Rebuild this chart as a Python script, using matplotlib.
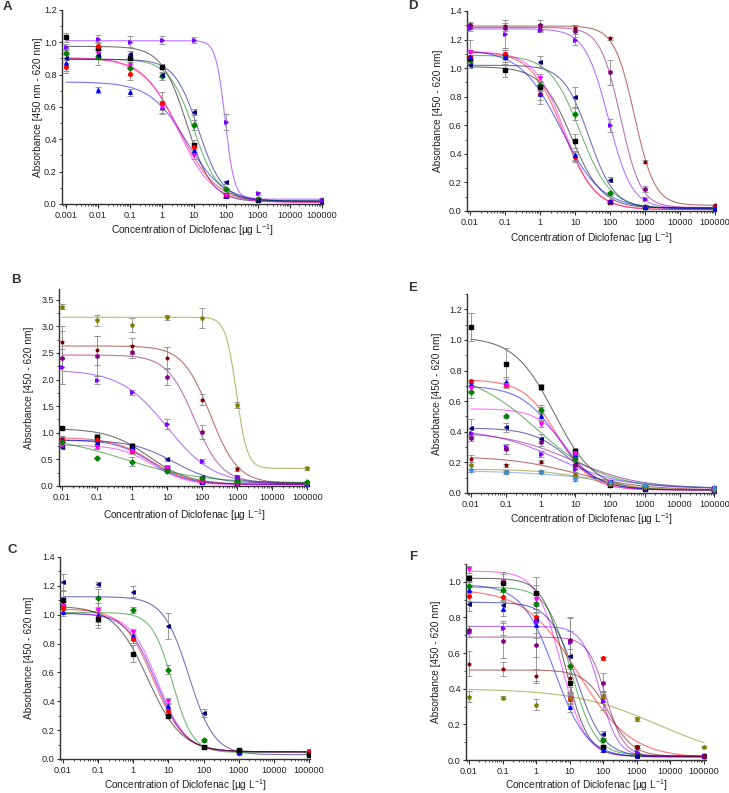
import numpy as np
import matplotlib.pyplot as plt
from matplotlib.ticker import FixedLocator, LogLocator, FuncFormatter, MultipleLocator, AutoMinorLocator, NullFormatter

plt.rcParams['font.family'] = ['Liberation Sans', 'DejaVu Sans']
plt.rcParams['mathtext.default'] = 'regular'

# Origin-like palette
COLORS = {'black': '#000000', 'red': '#FF0000', 'blue': '#0000FF', 'magenta': '#FF00FF',
          'green': '#008000', 'navy': '#000080', 'violet': '#8000FF', 'purple': '#800080',
          'wine': '#800000', 'olive': '#808000', 'lightblue': '#3C8DDC'}
MARKERS = {'black': 's', 'red': 'o', 'blue': '^', 'magenta': 'v', 'green': 'D', 'navy': '<',
           'violet': '>', 'purple': 'h', 'wine': '*', 'olive': 'p', 'lightblue': 'd'}

# ---------------- panel A ----------------
A_conc = [0.001, 0.01, 0.1, 1, 10, 100, 1000, 100000]
A_names = ['black', 'red', 'blue', 'magenta', 'green', 'navy', 'violet']
A_y = [[1.03, 0.965, 0.90, 0.85, 0.365, 0.055, 0.025, 0.02],
       [0.85, 0.98, 0.805, 0.625, 0.35, 0.05, 0.03, 0.025],
       [0.87, 0.705, 0.69, 0.60, 0.33, 0.05, 0.03, 0.025],
       [0.93, 0.935, 0.86, 0.60, 0.30, 0.055, 0.03, 0.025],
       [0.935, 0.91, 0.84, 0.79, 0.49, 0.09, 0.03, 0.025],
       [0.90, 0.92, 0.925, 0.80, 0.57, 0.135, 0.025, 0.02],
       [0.97, 1.02, 1.005, 1.015, 1.015, 0.505, 0.065, 0.025]]
A_err = [[0.025, 0.015, 0.02, 0.015, 0.03, 0.01, 0.005, 0.005],
         [0.04, 0.02, 0.04, 0.07, 0.03, 0.01, 0.005, 0.005],
         [0.05, 0.02, 0.02, 0.02, 0.02, 0.01, 0.005, 0.005],
         [0.03, 0.02, 0.02, 0.04, 0.02, 0.01, 0.005, 0.005],
         [0.03, 0.05, 0.04, 0.02, 0.03, 0.01, 0.005, 0.005],
         [0.03, 0.02, 0.02, 0.015, 0.02, 0.01, 0.005, 0.005],
         [0.02, 0.025, 0.035, 0.025, 0.02, 0.05, 0.01, 0.005]]
# 4PL fit: (top, bottom, IC50, slope)
A_fit = [(0.975, 0.015, 6.0, 1.1), (0.905, 0.01, 3.5, 0.75), (0.755, 0.015, 6.0, 0.75),
         (0.905, 0.01, 3.2, 0.8), (0.895, 0.02, 10.0, 1.1), (0.895, 0.02, 14.0, 1.15),
         (1.01, 0.03, 95.0, 3.0)]

# ---------------- panel B ----------------
B_conc = [0.01, 0.1, 1, 10, 100, 1000, 100000]
B_names = ['olive', 'wine', 'purple', 'violet', 'black', 'navy', 'red', 'blue', 'magenta', 'green']
B_y = [[3.37, 3.11, 3.02, 3.17, 3.15, 1.52, 0.33],
       [2.71, 2.55, 2.63, 2.41, 1.62, 0.32, 0.07],
       [2.41, 2.44, 2.52, 2.05, 1.02, 0.17, 0.07],
       [2.24, 1.99, 1.76, 1.16, 0.47, 0.16, 0.05],
       [1.08, 0.92, 0.75, 0.34, 0.08, 0.05, 0.03],
       [0.73, 0.82, 0.70, 0.50, 0.16, 0.09, 0.06],
       [0.89, 0.87, 0.66, 0.34, 0.10, 0.06, 0.03],
       [0.87, 0.81, 0.71, 0.32, 0.08, 0.05, 0.03],
       [0.77, 0.74, 0.65, 0.33, 0.07, 0.04, 0.03],
       [0.82, 0.52, 0.46, 0.29, 0.15, 0.10, 0.08]]
B_err = [[0.05, 0.1, 0.13, 0.05, 0.19, 0.06, 0.03],
         [0.3, 0.27, 0.15, 0.2, 0.1, 0.03, 0.02],
         [0.5, 0.38, 0.12, 0.15, 0.13, 0.03, 0.02],
         [0.33, 0.07, 0.05, 0.09, 0.03, 0.02, 0.02],
         [0.03, 0.05, 0.05, 0.05, 0.03, 0.02, 0.02],
         [0.03, 0.1, 0.04, 0.03, 0.02, 0.02, 0.02],
         [0.05, 0.05, 0.04, 0.04, 0.02, 0.02, 0.02],
         [0.05, 0.05, 0.04, 0.04, 0.02, 0.02, 0.02],
         [0.05, 0.05, 0.05, 0.04, 0.02, 0.02, 0.02],
         [0.05, 0.02, 0.08, 0.04, 0.03, 0.02, 0.02]]
B_fit = [(3.17, 0.33, 950.0, 2.8), (2.63, 0.05, 170.0, 1.1), (2.46, 0.06, 60.0, 1.1),
         (2.18, 0.03, 10.0, 0.65), (1.08, 0.03, 3.0, 0.75), (0.86, 0.05, 15.0, 0.75),
         (0.91, 0.03, 3.5, 0.8), (0.87, 0.03, 3.5, 0.85), (0.77, 0.02, 4.0, 0.9),
         (0.95, 0.06, 0.6, 0.4)]

# ---------------- panel C ----------------
C_conc = [0.01, 0.1, 1, 10, 100, 1000, 100000]
C_names = ['navy', 'green', 'magenta', 'blue', 'red', 'black']
C_y = [[1.225, 1.21, 1.16, 0.925, 0.32, 0.05, 0.035],
       [1.07, 1.115, 1.035, 0.62, 0.13, 0.04, 0.05],
       [1.06, 1.03, 0.88, 0.40, 0.085, 0.06, 0.055],
       [1.02, 1.00, 0.855, 0.365, 0.08, 0.05, 0.05],
       [1.045, 0.98, 0.835, 0.33, 0.08, 0.055, 0.05],
       [1.10, 0.97, 0.73, 0.295, 0.085, 0.06, 0.03]]
C_err = [[0.06, 0.02, 0.04, 0.09, 0.03, 0.01, 0.005],
         [0.05, 0.06, 0.02, 0.03, 0.01, 0.01, 0.005],
         [0.03, 0.05, 0.02, 0.02, 0.01, 0.01, 0.005],
         [0.03, 0.05, 0.03, 0.02, 0.01, 0.01, 0.005],
         [0.04, 0.05, 0.03, 0.02, 0.01, 0.01, 0.005],
         [0.07, 0.06, 0.06, 0.01, 0.01, 0.01, 0.005]]
C_fit = [(1.125, 0.03, 38.0, 1.2), (1.015, 0.045, 13.0, 1.5), (1.01, 0.05, 5.0, 1.1),
         (1.01, 0.05, 4.5, 1.05), (1.04, 0.05, 3.8, 1.0), (1.06, 0.05, 2.6, 0.9)]

# ---------------- panel D ----------------
D_conc = [0.01, 0.1, 1, 10, 100, 1000, 100000]
D_names = ['wine', 'purple', 'violet', 'navy', 'green', 'black', 'magenta', 'red', 'blue']
D_y = [[1.295, 1.295, 1.29, 1.28, 1.21, 0.345, 0.04],
       [1.30, 1.28, 1.30, 1.26, 0.97, 0.155, 0.03],
       [1.28, 1.24, 1.27, 1.20, 0.60, 0.085, 0.02],
       [1.02, 1.08, 1.045, 0.795, 0.22, 0.03, 0.02],
       [1.06, 1.09, 0.88, 0.68, 0.125, 0.03, 0.02],
       [1.07, 0.99, 0.87, 0.49, 0.065, 0.03, 0.02],
       [1.115, 1.10, 0.93, 0.37, 0.065, 0.03, 0.02],
       [1.075, 1.10, 0.82, 0.38, 0.065, 0.03, 0.02],
       [1.08, 1.075, 0.82, 0.39, 0.07, 0.03, 0.02]]
D_err = [[0.02, 0.02, 0.02, 0.02, 0.01, 0.01, 0.005],
         [0.02, 0.02, 0.04, 0.04, 0.09, 0.02, 0.005],
         [0.02, 0.1, 0.02, 0.04, 0.045, 0.01, 0.005],
         [0.02, 0.05, 0.04, 0.07, 0.02, 0.01, 0.005],
         [0.03, 0.05, 0.03, 0.04, 0.01, 0.01, 0.005],
         [0.05, 0.05, 0.03, 0.05, 0.01, 0.01, 0.005],
         [0.08, 0.03, 0.03, 0.03, 0.01, 0.01, 0.005],
         [0.03, 0.03, 0.07, 0.03, 0.01, 0.01, 0.005],
         [0.05, 0.02, 0.04, 0.03, 0.01, 0.01, 0.005]]
D_fit = [(1.295, 0.04, 500.0, 1.5), (1.285, 0.025, 200.0, 1.5), (1.275, 0.02, 90.0, 1.3),
         (1.02, 0.02, 25.0, 1.2), (1.09, 0.02, 14.0, 1.0), (1.01, 0.02, 8.0, 1.0),
         (1.115, 0.01, 5.0, 1.0), (1.115, 0.01, 4.5, 0.95), (1.13, 0.015, 4.0, 0.75)]

# ---------------- panel E ----------------
E_conc = [0.01, 0.1, 1, 10, 100, 1000, 100000]
E_names = ['black', 'red', 'blue', 'green', 'magenta', 'navy', 'violet', 'purple', 'wine', 'olive', 'lightblue']
E_y = [[1.085, 0.845, 0.69, 0.275, 0.05, 0.025, 0.02],
       [0.73, 0.705, 0.54, 0.255, 0.06, 0.03, 0.02],
       [0.71, 0.725, 0.505, 0.25, 0.07, 0.03, 0.02],
       [0.66, 0.50, 0.545, 0.22, 0.065, 0.045, 0.03],
       [0.685, 0.705, 0.45, 0.26, 0.07, 0.035, 0.02],
       [0.425, 0.43, 0.355, 0.19, 0.07, 0.04, 0.03],
       [0.395, 0.30, 0.255, 0.155, 0.065, 0.04, 0.03],
       [0.36, 0.285, 0.335, 0.18, 0.075, 0.04, 0.03],
       [0.225, 0.18, 0.205, 0.12, 0.06, 0.035, 0.03],
       [0.18, 0.14, 0.14, 0.11, 0.06, 0.04, 0.02],
       [0.15, 0.135, 0.14, 0.09, 0.07, 0.055, 0.03]]
E_err = [[0.09, 0.1, 0.02, 0.02, 0.01, 0.005, 0.005],
         [0.01, 0.01, 0.02, 0.02, 0.01, 0.005, 0.005],
         [0.02, 0.03, 0.03, 0.02, 0.01, 0.005, 0.005],
         [0.04, 0.01, 0.03, 0.02, 0.01, 0.01, 0.005],
         [0.02, 0.02, 0.02, 0.02, 0.01, 0.005, 0.005],
         [0.06, 0.03, 0.03, 0.02, 0.01, 0.005, 0.005],
         [0.02, 0.02, 0.02, 0.02, 0.01, 0.005, 0.005],
         [0.02, 0.03, 0.03, 0.02, 0.01, 0.005, 0.005],
         [0.02, 0.01, 0.01, 0.01, 0.01, 0.005, 0.005],
         [0.02, 0.01, 0.01, 0.01, 0.01, 0.005, 0.005],
         [0.01, 0.01, 0.01, 0.01, 0.01, 0.005, 0.005]]
E_fit = [(1.02, 0.02, 2.5, 0.75), (0.74, 0.02, 3.0, 0.9), (0.70, 0.02, 3.2, 0.8),
         (0.80, 0.03, 0.8, 0.45), (0.55, 0.02, 6.0, 1.0), (0.425, 0.02, 7.0, 0.8),
         (0.42, 0.03, 3.0, 0.45), (0.40, 0.03, 8.0, 0.45), (0.24, 0.02, 10.0, 0.45),
         (0.155, 0.02, 30.0, 0.6), (0.15, 0.02, 100.0, 0.3)]

# ---------------- panel F ----------------
F_conc = [0.01, 0.1, 1, 10, 100, 1000, 100000]
F_names = ['magenta', 'black', 'green', 'blue', 'red', 'navy', 'violet', 'purple', 'wine', 'olive']
F_y = [[1.07, 1.005, 0.905, 0.35, 0.07, 0.03, 0.02],
       [1.02, 0.995, 0.935, 0.43, 0.075, 0.03, 0.02],
       [0.975, 0.955, 0.875, 0.53, 0.115, 0.035, 0.02],
       [0.955, 0.85, 0.76, 0.30, 0.055, 0.025, 0.02],
       [0.92, 0.915, 0.80, 0.345, 0.57, 0.075, 0.02],
       [0.875, 0.87, 0.785, 0.585, 0.145, 0.025, 0.02],
       [0.72, 0.74, 0.78, 0.665, 0.33, 0.045, 0.02],
       [0.73, 0.67, 0.645, 0.675, 0.43, 0.075, 0.025],
       [0.54, 0.51, 0.47, 0.46, 0.355, 0.075, 0.025],
       [0.355, 0.35, 0.31, 0.35, 0.36, 0.23, 0.075]]
F_err = [[0.02, 0.05, 0.04, 0.03, 0.01, 0.005, 0.005],
         [0.02, 0.05, 0.09, 0.05, 0.01, 0.005, 0.005],
         [0.03, 0.04, 0.05, 0.05, 0.01, 0.005, 0.005],
         [0.02, 0.04, 0.05, 0.03, 0.01, 0.005, 0.005],
         [0.03, 0.03, 0.03, 0.03, 0.01, 0.01, 0.005],
         [0.04, 0.03, 0.1, 0.22, 0.02, 0.005, 0.005],
         [0.03, 0.04, 0.2, 0.13, 0.05, 0.01, 0.005],
         [0.02, 0.1, 0.2, 0.05, 0.06, 0.01, 0.005],
         [0.07, 0.04, 0.04, 0.05, 0.03, 0.01, 0.005],
         [0.03, 0.01, 0.03, 0.02, 0.02, 0.01, 0.005]]
F_fit = [(1.06, 0.02, 5.5, 1.2), (1.02, 0.02, 7.5, 1.3), (0.97, 0.025, 11.0, 1.2),
         (0.985, 0.015, 3.5, 0.9), (0.96, 0.01, 18.0, 0.55), (0.885, 0.02, 16.0, 1.1),
         (0.75, 0.02, 80.0, 1.6), (0.69, 0.02, 120.0, 1.6), (0.505, 0.02, 150.0, 1.2),
         (0.40, 0.0, 4000.0, 0.35)]

XLABEL = 'Concentration of Diclofenac [µg L$^{-1}$]'
W, H = 729, 793


def four_pl(x, top, bottom, ic50, slope):
    return bottom + (top - bottom) / (1 + (x / ic50) ** slope)


def draw_panel(box, letter, letter_xy, conc, names, ys, errs, fits, ymax, ystep,
               xlo, xhi, ylabel, ylab_x, xlab_y):
    left, top, right, bottom = box
    ax = fig.add_axes([left / W, 1 - bottom / H, (right - left) / W, (bottom - top) / H])
    xs = np.logspace(np.log10(conc[0]), np.log10(conc[-1]), 400)
    for name, fit in zip(names, fits):
        ax.plot(xs, four_pl(xs, *fit), color=COLORS[name], alpha=0.55, lw=0.8, zorder=2)
    for name, y, e in zip(names, ys, errs):
        ax.errorbar(conc, y, yerr=e, fmt=MARKERS[name], color=COLORS[name], ms=2.6,
                    mec=COLORS[name], ecolor='#8a8a8a', elinewidth=0.6, capsize=2,
                    capthick=0.6, zorder=3)
    ax.set_xscale('log')
    ax.set_xlim(xlo, xhi)
    ax.set_ylim(0, ymax)
    ax.spines['top'].set_visible(False)
    ax.spines['right'].set_visible(False)
    for s in ('left', 'bottom'):
        ax.spines[s].set_color('#333333')
        ax.spines[s].set_linewidth(1.0)
    dec = [10.0 ** k for k in range(int(round(np.log10(conc[0]))), 6)]
    ax.xaxis.set_major_locator(FixedLocator(dec))
    ax.xaxis.set_major_formatter(FuncFormatter(lambda v, p: '%g' % v))
    ax.xaxis.set_minor_locator(LogLocator(base=10, subs=np.arange(2, 10), numticks=20))
    ax.xaxis.set_minor_formatter(NullFormatter())
    ax.yaxis.set_major_locator(MultipleLocator(ystep))
    ax.yaxis.set_minor_locator(AutoMinorLocator(2))
    ax.yaxis.set_major_formatter(FuncFormatter(lambda v, p: '%.1f' % v))
    ax.tick_params(which='major', direction='out', width=0.8, labelsize=6.6,
                   colors='#333333', labelcolor='#222222')
    ax.tick_params(axis='x', which='major', length=3, pad=2)
    ax.tick_params(axis='y', which='major', length=2.5, pad=1.2)
    ax.tick_params(which='minor', direction='out', length=1.6, width=0.6, colors='#333333')
    ax.set_xlabel(XLABEL, fontsize=7.3, color='#222222')
    ax.set_ylabel(ylabel, fontsize=7.3, color='#222222')
    ax.yaxis.set_label_coords((ylab_x - left) / (right - left), 0.5)
    ax.xaxis.set_label_coords(0.5, -(xlab_y - bottom) / (bottom - top))
    ax.xaxis.label.set_va('center')
    ax.yaxis.label.set_va('center')
    fig.text(letter_xy[0] / W, 1 - letter_xy[1] / H, letter, fontsize=9.5,
             fontweight='bold', ha='center', va='center', color='#333333')
    return ax


fig = plt.figure(figsize=(W / 100, H / 100), dpi=100)

draw_panel((62, 10, 323, 204), 'A', (7, 7), A_conc, A_names, A_y, A_err, A_fit, 1.2, 0.2,
           10 ** -3.125, 10 ** 5.04, 'Absorbance [450 nm - 620 nm]', 38, 230)
draw_panel((467, 11, 716, 211), 'D', (413, 6), D_conc, D_names, D_y, D_err, D_fit, 1.4, 0.2,
           10 ** -2.086, 10 ** 5.03, 'Absorbance [450 - 620 nm]', 438, 238)
draw_panel((59, 289, 309, 486), 'B', (16, 280), B_conc, B_names, B_y, B_err, B_fit, 3.7, 0.5,
           10 ** -2.086, 10 ** 5.05, 'Absorbance [450 - 620 nm]', 29, 515)
draw_panel((467, 294, 716, 493), 'E', (413, 288), E_conc, E_names, E_y, E_err, E_fit, 1.3, 0.2,
           10 ** -2.115, 10 ** 5.05, 'Absorbance [450 - 620 nm]', 437, 519)
draw_panel((60, 557, 310, 759), 'C', (12, 550), C_conc, C_names, C_y, C_err, C_fit, 1.4, 0.2,
           10 ** -2.086, 10 ** 5.03, 'Absorbance [450 - 620 nm]', 29, 785)
draw_panel((466, 564, 706, 760), 'F', (413, 557), F_conc, F_names, F_y, F_err, F_fit, 1.1, 0.2,
           10 ** -2.09, 10 ** 5.06, 'Absorbance [450 - 620 nm]', 436, 785)

fig.savefig('out.png', dpi=100)
